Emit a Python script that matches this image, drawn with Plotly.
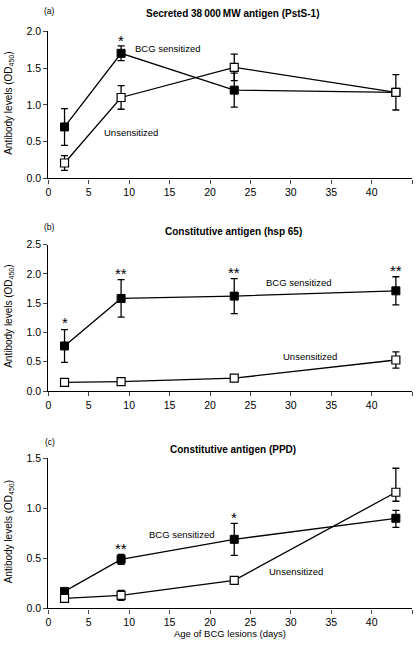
import plotly.graph_objects as go

# ---- data ----
days = [2, 9, 23, 43]

# (a) Secreted 38000 MW antigen (PstS-1)
a_bcg = [0.70, 1.70, 1.20, 1.17]
a_bcg_err = [0.25, 0.10, 0.23, 0.24]
a_bcg_err_minus = [0.25, 0.10, 0.23, 0.24]
a_uns = [0.21, 1.10, 1.51, 1.17]
a_uns_err = [0.10, 0.16, 0.18, 0.0]
a_uns_err_minus = [0.10, 0.16, 0.18, 0.0]

# (b) Constitutive antigen (hsp 65)
b_bcg = [0.77, 1.58, 1.62, 1.71]
b_bcg_err = [0.28, 0.32, 0.30, 0.24]
b_bcg_err_minus = [0.28, 0.32, 0.30, 0.24]
b_uns = [0.15, 0.16, 0.22, 0.53]
b_uns_err = [0.0, 0.0, 0.0, 0.14]
b_uns_err_minus = [0.0, 0.0, 0.0, 0.14]

# (c) Constitutive antigen (PPD)
c_bcg = [0.17, 0.49, 0.69, 0.90]
c_bcg_err = [0.0, 0.05, 0.16, 0.08]
c_bcg_err_minus = [0.0, 0.05, 0.16, 0.09]
c_uns = [0.10, 0.13, 0.28, 1.16]
c_uns_err = [0.0, 0.05, 0.0, 0.24]
c_uns_err_minus = [0.0, 0.05, 0.0, 0.09]

panel_titles = ["Secreted 38\u2009000\u2009MW antigen (PstS-1)",
                "Constitutive antigen (hsp 65)",
                "Constitutive antigen (PPD)"]
panel_letters = ["(a)", "(b)", "(c)"]
y_ranges = [[0, 2.0], [0, 2.5], [0, 1.5]]
x_ticks = [0, 5, 10, 15, 20, 25, 30, 35, 40, 45]
y_title = "Antibody levels (OD<sub>450</sub>)"
x_title = "Age of BCG lesions (days)"

# significance marks: (panel, x, y, text)
stars = [
    (0, 9, 1.88, "*"),
    (1, 2, 1.17, "*"), (1, 9, 2.01, "**"), (1, 23, 2.03, "**"), (1, 43, 2.05, "**"),
    (2, 9, 0.60, "**"), (2, 23, 0.91, "*"),
]
# series labels: (panel, x, y, text)
labels = [
    (0, 14.7, 1.76, "BCG sensitized"), (0, 10.2, 0.63, "Unsensitized"),
    (1, 31.0, 1.86, "BCG sensitized"), (1, 32.4, 0.59, "Unsensitized"),
    (2, 16.5, 0.74, "BCG sensitized"), (2, 30.7, 0.37, "Unsensitized"),
]

W, H = 417, 652
FONT = "Liberation Sans, Arial, Helvetica, sans-serif"

panels = [
    (a_bcg, a_bcg_err, a_bcg_err_minus, a_uns, a_uns_err, a_uns_err_minus),
    (b_bcg, b_bcg_err, b_bcg_err_minus, b_uns, b_uns_err, b_uns_err_minus),
    (c_bcg, c_bcg_err, c_bcg_err_minus, c_uns, c_uns_err, c_uns_err_minus),
]
# pixel extents of plot areas (top, bottom)
y_px = [(25.7, 175.7), (243.0, 392.3), (460.7, 613.7)]
x_px = (45.7, 412.0)

fig = go.Figure()
layout = dict(
    width=W, height=H,
    margin=dict(l=0, r=0, t=0, b=0),
    paper_bgcolor="white", plot_bgcolor="white",
    showlegend=False,
    font=dict(family=FONT, size=10, color="black"),
)

annotations = []
for i, (bcg, bcg_e, bcg_em, uns, uns_e, uns_em) in enumerate(panels):
    xa = "x" if i == 0 else f"x{i+1}"
    ya = "y" if i == 0 else f"y{i+1}"
    xkey = "xaxis" if i == 0 else f"xaxis{i+1}"
    ykey = "yaxis" if i == 0 else f"yaxis{i+1}"
    top, bot = y_px[i]
    layout[xkey] = dict(
        domain=[x_px[0] / W, x_px[1] / W], range=[0, 45], anchor=ya,
        tickmode="array", tickvals=x_ticks, ticks="outside", ticklen=4,
        tickwidth=1.2, showline=True, linewidth=1.3, linecolor="black",
        showgrid=False, zeroline=False, tickfont=dict(size=10.5, family=FONT),
    )
    layout[ykey] = dict(
        domain=[1 - bot / H, 1 - top / H], range=y_ranges[i], anchor=xa,
        dtick=0.5, tickformat=".1f", ticks="outside", ticklen=4,
        tickwidth=1.2, showline=True, linewidth=1.3, linecolor="black",
        showgrid=False, zeroline=False, tickfont=dict(size=10.5, family=FONT),
    )
    # error bars first (underneath markers)
    for ys, es, esm in ((bcg, bcg_e, bcg_em), (uns, uns_e, uns_em)):
        fig.add_trace(go.Scatter(
            x=days, y=ys, xaxis=xa, yaxis=ya, mode="markers",
            marker=dict(size=1, color="rgba(0,0,0,0)"),
            error_y=dict(type="data", array=es, arrayminus=esm, symmetric=False,
                         visible=True, color="black", thickness=1.3, width=3.5),
            hoverinfo="skip",
        ))
    # BCG sensitized (filled squares)
    fig.add_trace(go.Scatter(
        x=days, y=bcg, xaxis=xa, yaxis=ya, mode="lines+markers",
        line=dict(color="black", width=1.3),
        marker=dict(symbol="square", size=8, color="black",
                    line=dict(color="black", width=1)),
        name="BCG sensitized",
    ))
    # Unsensitized (open squares)
    fig.add_trace(go.Scatter(
        x=days, y=uns, xaxis=xa, yaxis=ya, mode="lines+markers",
        line=dict(color="black", width=1.3),
        marker=dict(symbol="square", size=8, color="white",
                    line=dict(color="black", width=1.2)),
        name="Unsensitized",
    ))
    # panel title, letter, y-axis title
    title_y = [8, 230, 452][i]
    letter_y = [5, 225, 444][i]
    annotations.append(dict(
        text=f"<b>{panel_titles[i]}</b>", x=232 / W, y=1 - title_y / H,
        xref="paper", yref="paper", xanchor="center", yanchor="middle",
        showarrow=False, font=dict(size=10, family=FONT)))
    annotations.append(dict(
        text=panel_letters[i], x=47 / W, y=1 - letter_y / H,
        xref="paper", yref="paper", xanchor="center", yanchor="middle",
        showarrow=False, font=dict(size=8.5, family=FONT)))
    annotations.append(dict(
        text=y_title, x=6 / W, y=1 - ((top + bot) / 2 - 2) / H,
        xref="paper", yref="paper", xanchor="center", yanchor="middle",
        textangle=-90, showarrow=False, font=dict(size=10, family=FONT)))

for (p, x, y, t) in stars:
    xa = "x" if p == 0 else f"x{p+1}"
    ya = "y" if p == 0 else f"y{p+1}"
    annotations.append(dict(
        text=t, x=x, y=y, xref=xa, yref=ya, showarrow=False,
        xanchor="center", yanchor="middle", font=dict(size=15, family=FONT)))

for (p, x, y, t) in labels:
    xa = "x" if p == 0 else f"x{p+1}"
    ya = "y" if p == 0 else f"y{p+1}"
    annotations.append(dict(
        text=t, x=x, y=y, xref=xa, yref=ya, showarrow=False,
        xanchor="center", yanchor="middle", font=dict(size=9.5, family=FONT)))

annotations.append(dict(
    text=x_title, x=229 / W, y=1 - 639 / H,
    xref="paper", yref="paper", xanchor="center", yanchor="middle",
    showarrow=False, font=dict(size=9.5, family=FONT)))

layout["annotations"] = annotations
fig.update_layout(**layout)
fig.write_html("out.html", config={"displayModeBar": False},
               post_script="document.body.style.margin='0';document.body.style.padding='0';")
